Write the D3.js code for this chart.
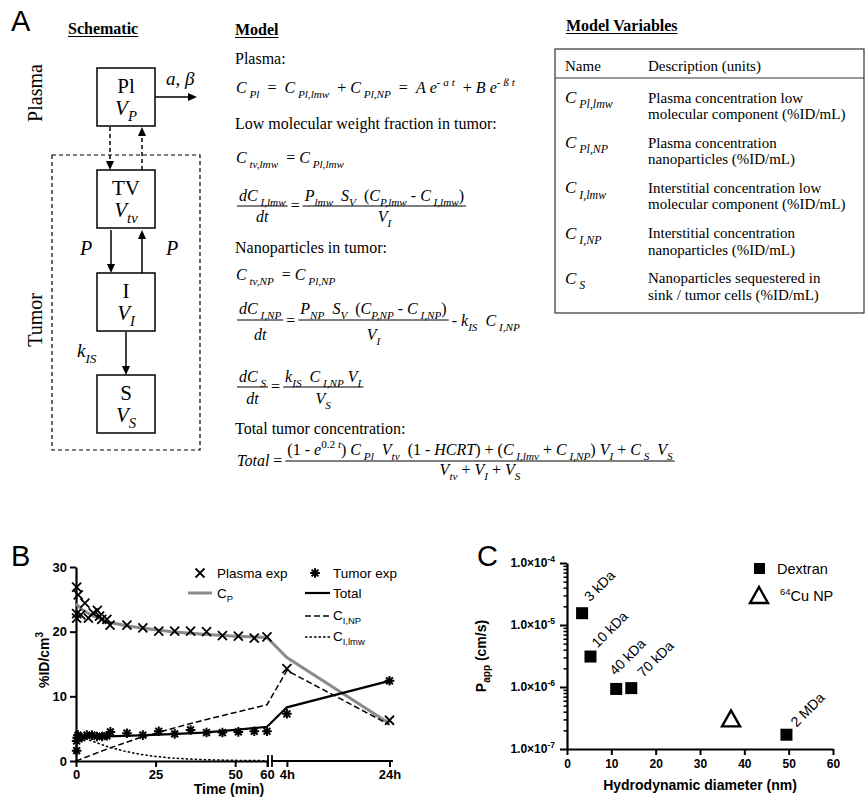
<!DOCTYPE html>
<html>
<head>
<meta charset="utf-8">
<script src="https://cdn.jsdelivr.net/npm/d3@7"></script>
<style>
  body { margin: 0; background: #fff; }
  text { white-space: pre; }
</style>
</head>
<body>
<script>
"use strict";
(function(){
  // ---------- panel B data (time in minutes, 240 = 4h, 1440 = 24h) ----------
  const plasmaExpT = [0.2, 0.2, 0.2, 0.7, 1.5, 2.8, 3.9, 5.4, 6.7, 7.4, 8.1, 9.7, 10.7, 16, 21, 26, 31, 36, 41, 46, 51, 56, 60, 240, 1440];
  const plasmaExpV = [26.9, 22.8, 22.1, 25.7, 22.6, 24.4, 22.1, 22.9, 23.3, 22.4, 21.9, 21.9, 21.0, 21.0, 20.6, 20.1, 20.1, 20.1, 20.0, 19.4, 19.3, 19.0, 19.2, 14.3, 6.3];
  const tumorExpT = [0.2, 0.2, 0.4, 0.6, 1.8, 3.4, 5.0, 6.6, 8.2, 9.7, 10.8, 16, 21, 26, 31, 36, 41, 46, 51, 56, 60, 240, 1440];
  const tumorExpV = [1.6, 3.1, 3.6, 4.0, 3.6, 4.0, 4.0, 3.8, 3.8, 3.9, 4.5, 4.3, 4.0, 4.6, 4.2, 4.8, 4.4, 4.4, 4.5, 4.6, 4.6, 7.3, 12.4];
  const cpT = [0, 2, 5, 10, 15, 20, 25, 30, 40, 50, 60, 240, 1440];
  const cpV = [24.3, 23.4, 22.5, 21.5, 21.0, 20.6, 20.3, 20.0, 19.6, 19.3, 19.1, 16.0, 5.8];
  const totalT = [0, 5, 10, 20, 30, 40, 50, 60, 240, 1440];
  const totalV = [3.5, 3.7, 3.8, 3.95, 4.15, 4.4, 4.8, 5.3, 8.3, 12.4];
  const ciNpT = [0, 10, 20, 30, 40, 50, 60, 240, 1440];
  const ciNpV = [0, 1.9, 3.6, 5.0, 6.3, 7.5, 8.7, 14.0, 5.6];
  const ciLmwT = [0, 2, 5, 10, 15, 20, 25, 30, 40, 50, 60];
  const ciLmwV = [3.8, 3.6, 3.1, 2.2, 1.55, 1.05, 0.7, 0.45, 0.2, 0.1, 0.05];
  const minTicks = [0, 25, 50, 60];
  const hourTicks = [4, 24];
  const yTicksB = [0, 10, 20, 30];

  // ---------- panel C data ----------
  const dextranDiam = [3.4, 5.3, 11.1, 14.5, 49.5];
  const dextranPapp = [1.55e-5, 3.1e-6, 9.3e-7, 9.6e-7, 1.7e-7];
  const dextranNames = ["3 kDa", "10 kDa", "40 kDa", "70 kDa", "2 MDa"];
  const npDiam = [37.0];
  const npPapp = [3.0e-7];
  const xTicksC = [0, 10, 20, 30, 40, 50, 60];
  const yTicksC = [1e-7, 1e-6, 1e-5, 1e-4];

  const SERIF = '"Liberation Serif","Times New Roman",serif';
  const SANS = '"Liberation Sans",Arial,sans-serif';

  const svg = d3.select('body').append('svg')
      .attr('width', 867).attr('height', 798)
      .style('font-family', SANS);
  svg.append('rect').attr('width', 867).attr('height', 798).attr('fill', '#fff');

  // segment helpers for math text
  const n = s => [s, 'n'], i = s => [s, 'i'], b = s => [s, 'b'], p = s => [s, 'p'], pn = s => [s, 'pn'];

  function rich(sel, x, y, segs, size, family) {
    const t = sel.append('text').attr('x', x).attr('y', y)
        .attr('font-size', size).attr('font-family', family || SERIF).attr('fill', '#000');
    let shift = 0;
    segs.forEach(s => {
      const str = s[0], k = s[1];
      let target = 0, sz = size;
      if (k[0] === 'b') { target = size * 0.3; sz = size * 0.7; }
      if (k[0] === 'p') { target = -size * 0.42; sz = size * 0.7; }
      const ts = t.append('tspan').attr('dy', target - shift).text(str);
      shift = target;
      if (sz !== size) ts.attr('font-size', sz);
      if (k === 'i' || k === 'b' || k === 'p') ts.attr('font-style', 'italic');
    });
    return t;
  }
  const len = t => t.node().getComputedTextLength();

  function frac(g, x, yl, num, den, size, up, down) {
    const nt = rich(g, 0, yl - up, num, size).attr('text-anchor', 'middle');
    const dt = rich(g, 0, yl + down, den, size).attr('text-anchor', 'middle');
    const w = Math.max(len(nt), len(dt)) + 4;
    nt.attr('x', x + w / 2);
    dt.attr('x', x + w / 2);
    g.append('line').attr('x1', x).attr('x2', x + w).attr('y1', yl).attr('y2', yl)
        .attr('stroke', '#000').attr('stroke-width', 1);
    return w;
  }

  // lay out fractions and inline pieces from left to right
  function seq(g, x, yl, items, size, up, down, base) {
    items.forEach(it => {
      if (it.f) {
        x += frac(g, x, yl, it.f[0], it.f[1], size, up, down) + 3;
      } else {
        const t = rich(g, x, yl + base, it, size);
        x += len(t) + 3;
      }
    });
  }

  function arrow(g, x1, y1, x2, y2, dashed) {
    const ang = Math.atan2(y2 - y1, x2 - x1), L = 9, W = 4;
    const ex = x2 - L * Math.cos(ang), ey = y2 - L * Math.sin(ang);
    g.append('line').attr('x1', x1).attr('y1', y1).attr('x2', ex).attr('y2', ey)
        .attr('stroke', '#000').attr('stroke-width', 1.5)
        .attr('stroke-dasharray', dashed ? '4,3' : null);
    g.append('path')
        .attr('d', `M${x2},${y2}L${ex - W * Math.sin(ang)},${ey + W * Math.cos(ang)}L${ex + W * Math.sin(ang)},${ey - W * Math.cos(ang)}Z`)
        .attr('fill', '#000');
  }

  function heading(g, x, y, label) {
    const t = g.append('text').attr('x', x).attr('y', y).attr('font-family', SERIF)
        .attr('font-size', 16).attr('font-weight', 'bold').text(label);
    g.append('line').attr('x1', x).attr('x2', x + len(t)).attr('y1', y + 2.5).attr('y2', y + 2.5)
        .attr('stroke', '#000').attr('stroke-width', 1.2);
  }

  // panel letters
  [["A", 11, 31], ["B", 11, 566], ["C", 477, 566]].forEach(d => {
    svg.append('text').attr('x', d[1]).attr('y', d[2]).attr('font-size', 29).text(d[0]);
  });

  // ================= PANEL A : schematic =================
  const gA = svg.append('g');
  heading(gA, 68, 34, "Schematic");

  const boxes = [
    { y: 68, name: "Pl", sub: "P" },
    { y: 170, name: "TV", sub: "tv" },
    { y: 273, name: "I", sub: "I" },
    { y: 375, name: "S", sub: "S" }
  ];
  boxes.forEach(d => {
    gA.append('rect').attr('x', 97).attr('y', d.y).attr('width', 58).attr('height', 58)
        .attr('fill', 'none').attr('stroke', '#000').attr('stroke-width', 1.5);
    gA.append('text').attr('x', 126).attr('y', d.y + 25).attr('text-anchor', 'middle')
        .attr('font-family', SERIF).attr('font-size', 21).text(d.name);
    rich(gA, 126, d.y + 47, [i('V'), b(d.sub)], 21).attr('text-anchor', 'middle');
  });
  gA.append('rect').attr('x', 52).attr('y', 155).attr('width', 148).attr('height', 295)
      .attr('fill', 'none').attr('stroke', '#000').attr('stroke-width', 1.2).attr('stroke-dasharray', '4,3');

  arrow(gA, 155, 97, 197, 97, false);
  arrow(gA, 110, 127, 110, 170, true);
  arrow(gA, 142, 170, 142, 127, true);
  arrow(gA, 111, 230, 111, 273, false);
  arrow(gA, 142, 273, 142, 230, false);
  arrow(gA, 126, 332, 126, 375, false);

  rich(gA, 166, 85, [i("a, β")], 19);
  rich(gA, 80, 255, [i("P")], 20);
  rich(gA, 166, 255, [i("P")], 20);
  rich(gA, 77, 357, [i("k"), b("IS")], 19);

  [["Plasma", 93], ["Tumor", 320]].forEach(d => {
    gA.append('text').attr('transform', `translate(42,${d[1]}) rotate(-90)`)
        .attr('text-anchor', 'middle').attr('font-family', SERIF).attr('font-size', 20).text(d[0]);
  });

  // ================= PANEL A : model =================
  const gM = svg.append('g');
  const ES = 16;
  heading(gM, 235, 35, "Model");
  const para = (y, s) => gM.append('text').attr('x', 235).attr('y', y)
      .attr('font-family', SERIF).attr('font-size', 16).text(s);
  para(64, "Plasma:");
  rich(gM, 236, 93, [i('C'), b(' Pl'), n('  =  '), i('C'), b(' Pl,lmw'), n('  + '), i('C'), b(' Pl,NP'),
      n('  =  '), i('A'), n(' '), i('e'), p('- a t'), n('  + '), i('B'), n(' '), i('e'), p('- ß t')], ES);
  para(129, "Low molecular weight fraction in tumor:");
  rich(gM, 236, 163, [i('C'), b(' tv,lmw'), n('  = '), i('C'), b(' Pl,lmw')], ES);

  seq(gM, 237, 206, [
    { f: [[i('dC'), b(' I,lmw')], [i('dt')]] },
    [n('=')],
    { f: [[i('P'), b('lmw'), n('  '), i('S'), b('V'), n('  ('), i('C'), b('P,lmw'), n(' - '), i('C'), b(' I,lmw'), n(')')], [i('V'), b('I')]] }
  ], ES, 5, 16, 4.5);

  para(253, "Nanoparticles in tumor:");
  rich(gM, 236, 280, [i('C'), b(' tv,NP'), n('  = '), i('C'), b(' Pl,NP')], ES);

  seq(gM, 237, 320, [
    { f: [[i('dC'), b(' I,NP')], [i('dt')]] },
    [n('=')],
    { f: [[i('P'), b('NP'), n('  '), i('S'), b('V'), n('  ('), i('C'), b('P,NP'), n(' - '), i('C'), b(' I,NP'), n(')')], [i('V'), b('I')]] },
    [n('- '), i('k'), b('IS'), n('  '), i('C'), b(' I,NP')]
  ], ES, 6, 20, 6);

  seq(gM, 237, 387, [
    { f: [[i('dC'), b(' S')], [i('dt')]] },
    [n('=')],
    { f: [[i('k'), b('IS'), n('  '), i('C'), b(' I,NP'), n(' '), i('V'), b('I')], [i('V'), b('S')]] }
  ], ES, 5, 17, 4.5);

  para(434, "Total tumor concentration:");
  seq(gM, 237, 461, [
    [i('Total'), n(' =')],
    { f: [[n('(1 - '), i('e'), pn('0.2 '), p('t'), n(') '), i('C'), b(' Pl'), n('  '), i('V'), b('tv'), n('  (1 - '), i('HCRT'),
           n(') + ('), i('C'), b(' I,lmv'), n(' + '), i('C'), b(' I,NP'), n(') '), i('V'), b('I'), n(' + '), i('C'), b(' S'), n('  '), i('V'), b('S')],
          [i('V'), b('tv'), n(' + '), i('V'), b('I'), n(' + '), i('V'), b('S')]] }
  ], ES, 6, 14, 4.5);

  // ================= PANEL A : variables table =================
  const gT = svg.append('g');
  heading(gT, 566, 31, "Model Variables");
  gT.append('rect').attr('x', 555).attr('y', 49).attr('width', 309).attr('height', 264)
      .attr('fill', 'none').attr('stroke', '#333').attr('stroke-width', 1.2);
  gT.append('line').attr('x1', 555).attr('x2', 864).attr('y1', 78).attr('y2', 78)
      .attr('stroke', '#333').attr('stroke-width', 1.2);
  const cell = (x, y, s) => gT.append('text').attr('x', x).attr('y', y)
      .attr('font-family', SERIF).attr('font-size', 15).text(s);
  cell(565, 71, "Name");
  cell(648, 71, "Description (units)");
  const varSyms = [[i('C'), b(' Pl,lmw')], [i('C'), b(' Pl,NP')], [i('C'), b(' I,lmw')], [i('C'), b(' I,NP')], [i('C'), b(' S')]];
  const varDesc = [
    ["Plasma concentration low", "molecular component (%ID/mL)"],
    ["Plasma concentration", "nanoparticles (%ID/mL)"],
    ["Interstitial concentration low", "molecular component (%ID/mL)"],
    ["Interstitial concentration", "nanoparticles (%ID/mL)"],
    ["Nanoparticles sequestered in", "sink / tumor cells (%ID/mL)"]
  ];
  varSyms.forEach((s, k) => {
    const y = 103 + k * 45.2;
    rich(gT, 565, y, s, 17);
    cell(648, y - 0.5, varDesc[k][0]);
    cell(648, y + 16, varDesc[k][1]);
  });

  // ================= PANEL B =================
  const gB = svg.append('g');
  const xMin = d3.scaleLinear().domain([0, 60]).range([76, 267]);
  const xHr = d3.scaleLinear().domain([1, 24]).range([271.5, 389.5]);
  const bx = t => t <= 60 ? xMin(t) : xHr(t / 60);
  const by = d3.scaleLinear().domain([0, 30]).range([761, 567]);

  function styleAxis(g, size) {
    g.select('.domain').attr('stroke-width', 2.2);
    g.selectAll('.tick line').attr('stroke-width', 2);
    g.selectAll('.tick text').attr('font-size', size).attr('font-weight', 'bold')
        .attr('font-family', SANS).attr('fill', '#000');
  }

  gB.append('g').attr('transform', 'translate(76,0)')
      .call(d3.axisLeft(by).tickValues(yTicksB).tickSize(6).tickSizeOuter(0).tickPadding(3))
      .call(g => styleAxis(g, 13));
  gB.append('g').attr('transform', 'translate(0,761)')
      .call(d3.axisBottom(xMin).tickValues(minTicks).tickSize(6).tickSizeOuter(0).tickPadding(3))
      .call(g => styleAxis(g, 13));
  gB.append('g').attr('transform', 'translate(0,761)')
      .call(d3.axisBottom(xHr).tickValues(hourTicks).tickFormat(d => d + "h")
        .tickSize(6).tickSizeOuter(0).tickPadding(3))
      .call(g => styleAxis(g, 13))
      .call(g => g.select('.domain').attr('d', 'M271.5,0H393'));
  // axis break marks
  [268, 272].forEach(x => gB.append('line').attr('x1', x).attr('x2', x).attr('y1', 755).attr('y2', 767)
      .attr('stroke', '#000').attr('stroke-width', 1.8));

  const line = d3.line().x(d => bx(d[0])).y(d => by(d[1]));
  const series = [
    { t: cpT, v: cpV, color: '#8a8a8a', w: 3, dash: null },
    { t: ciNpT, v: ciNpV, color: '#000', w: 1.5, dash: '6,3' },
    { t: ciLmwT, v: ciLmwV, color: '#000', w: 1.5, dash: '2.5,2' },
    { t: totalT, v: totalV, color: '#000', w: 2.2, dash: null }
  ];
  series.forEach(s => {
    gB.append('path').datum(d3.zip(s.t, s.v)).attr('d', line)
        .attr('fill', 'none').attr('stroke', s.color).attr('stroke-width', s.w)
        .attr('stroke-dasharray', s.dash);
  });

  const crossPath = 'M-4.5,-4.5L4.5,4.5M-4.5,4.5L4.5,-4.5';
  const starPath = 'M-4.8,0H4.8M0,-4.8V4.8M-3.4,-3.4L3.4,3.4M-3.4,3.4L3.4,-3.4';
  gB.selectAll('.px').data(d3.zip(plasmaExpT, plasmaExpV)).enter().append('path')
      .attr('transform', d => `translate(${bx(d[0])},${by(d[1])})`)
      .attr('d', crossPath).attr('stroke', '#000').attr('stroke-width', 1.8).attr('fill', 'none');
  gB.selectAll('.tx').data(d3.zip(tumorExpT, tumorExpV)).enter().append('path')
      .attr('transform', d => `translate(${bx(d[0])},${by(d[1])})`)
      .attr('d', starPath).attr('stroke', '#000').attr('stroke-width', 2).attr('fill', 'none');

  // legend B
  const lt = (x, y, segs) => rich(gB, x, y, segs, 13.5, SANS);
  gB.append('path').attr('transform', 'translate(200,573)').attr('d', crossPath)
      .attr('stroke', '#000').attr('stroke-width', 1.8);
  lt(217, 578, [n("Plasma exp")]);
  gB.append('line').attr('x1', 188).attr('x2', 212).attr('y1', 593).attr('y2', 593)
      .attr('stroke', '#8a8a8a').attr('stroke-width', 3);
  lt(217, 598, [n("C"), ['P', 'bn']]);
  gB.append('path').attr('transform', 'translate(315,573)').attr('d', starPath)
      .attr('stroke', '#000').attr('stroke-width', 2);
  lt(333, 578, [n("Tumor exp")]);
  [[593, null, 2.2], [616, '6,3', 1.5], [637, '2.5,2', 1.5]].forEach(d => {
    gB.append('line').attr('x1', 305).attr('x2', 330).attr('y1', d[0]).attr('y2', d[0])
        .attr('stroke', '#000').attr('stroke-width', d[2]).attr('stroke-dasharray', d[1]);
  });
  lt(333, 598, [n("Total")]);
  lt(333, 620, [n("C"), ['I,NP', 'bn']]);
  lt(333, 641, [n("C"), ['I,lmw', 'bn']]);

  gB.append('text').attr('x', 229).attr('y', 794).attr('text-anchor', 'middle')
      .attr('font-size', 14).attr('font-weight', 'bold').text("Time (min)");
  const yl = gB.append('text').attr('transform', 'translate(49,660) rotate(-90)').attr('text-anchor', 'middle')
      .attr('font-size', 14).attr('font-weight', 'bold');
  yl.append('tspan').text("%ID/cm");
  yl.append('tspan').attr('dy', -6).attr('font-size', 10).text("3");

  // ================= PANEL C =================
  const gC = svg.append('g');
  const cx = d3.scaleLinear().domain([0, 60]).range([567, 833]);
  const cy = d3.scaleLog().domain([1e-7, 1e-4]).range([749, 563]);

  const minorC = [];
  yTicksC.slice(0, 3).forEach(dec => d3.range(2, 10).forEach(m => minorC.push(dec * m)));
  gC.append('g').attr('transform', 'translate(567,0)')
      .call(d3.axisLeft(cy).tickValues(minorC).tickSize(3.5).tickFormat(''))
      .call(g => { g.select('.domain').remove(); g.selectAll('.tick line').attr('stroke-width', 1.5); });
  gC.append('g').attr('transform', 'translate(567,0)')
      .call(d3.axisLeft(cy).tickValues(yTicksC).tickSize(7).tickSizeOuter(0).tickPadding(5))
      .call(g => styleAxis(g, 12))
      .call(g => g.selectAll('.tick text').each(function(d) {
        const t = d3.select(this).text('');
        t.append('tspan').text("1.0×10");
        t.append('tspan').attr('dy', -5).attr('font-size', 8.5).text(String(Math.round(Math.log10(d))));
      }));
  gC.append('g').attr('transform', 'translate(0,749)')
      .call(d3.axisBottom(cx).tickValues(xTicksC).tickSize(6).tickSizeOuter(0).tickPadding(4))
      .call(g => styleAxis(g, 12));

  gC.selectAll('.sq').data(d3.zip(dextranDiam, dextranPapp)).enter().append('rect')
      .attr('x', d => cx(d[0]) - 6).attr('y', d => cy(d[1]) - 6)
      .attr('width', 12).attr('height', 12).attr('fill', '#000');
  const triPath = 'M0,-9L9,7H-9Z';
  gC.selectAll('.tri').data(d3.zip(npDiam, npPapp)).enter().append('path')
      .attr('transform', d => `translate(${cx(d[0])},${cy(d[1])})`)
      .attr('d', triPath).attr('fill', 'none').attr('stroke', '#000').attr('stroke-width', 2.4);

  const labelNudge = [[8, -11], [7, -8], [-1, -13], [12, -10], [10, -7]];
  dextranNames.forEach((s, k) => {
    const x = cx(dextranDiam[k]) + labelNudge[k][0], y = cy(dextranPapp[k]) + labelNudge[k][1];
    gC.append('text').attr('transform', `translate(${x},${y}) rotate(-45)`)
        .attr('font-size', 14).text(s);
  });

  // legend C
  gC.append('rect').attr('x', 754).attr('y', 563).attr('width', 11).attr('height', 11).attr('fill', '#000');
  gC.append('text').attr('x', 777).attr('y', 574).attr('font-size', 14.5).text("Dextran");
  gC.append('path').attr('transform', 'translate(759,596)').attr('d', triPath)
      .attr('fill', 'none').attr('stroke', '#000').attr('stroke-width', 2.4);
  const np = gC.append('text').attr('x', 780).attr('y', 601).attr('font-size', 14.5);
  np.append('tspan').attr('dy', -6).attr('font-size', 9.5).text("64");
  np.append('tspan').attr('dy', 6).text("Cu NP");

  gC.append('text').attr('x', 700).attr('y', 790).attr('text-anchor', 'middle')
      .attr('font-size', 14).attr('font-weight', 'bold').text("Hydrodynamic diameter (nm)");
  const pl = gC.append('text').attr('transform', 'translate(486,656) rotate(-90)').attr('text-anchor', 'middle')
      .attr('font-size', 14).attr('font-weight', 'bold');
  pl.append('tspan').text("P");
  pl.append('tspan').attr('dy', 4).attr('font-size', 10).text("app");
  pl.append('tspan').attr('dy', -4).text(" (cm/s)");
})();
</script>
</body>
</html>
